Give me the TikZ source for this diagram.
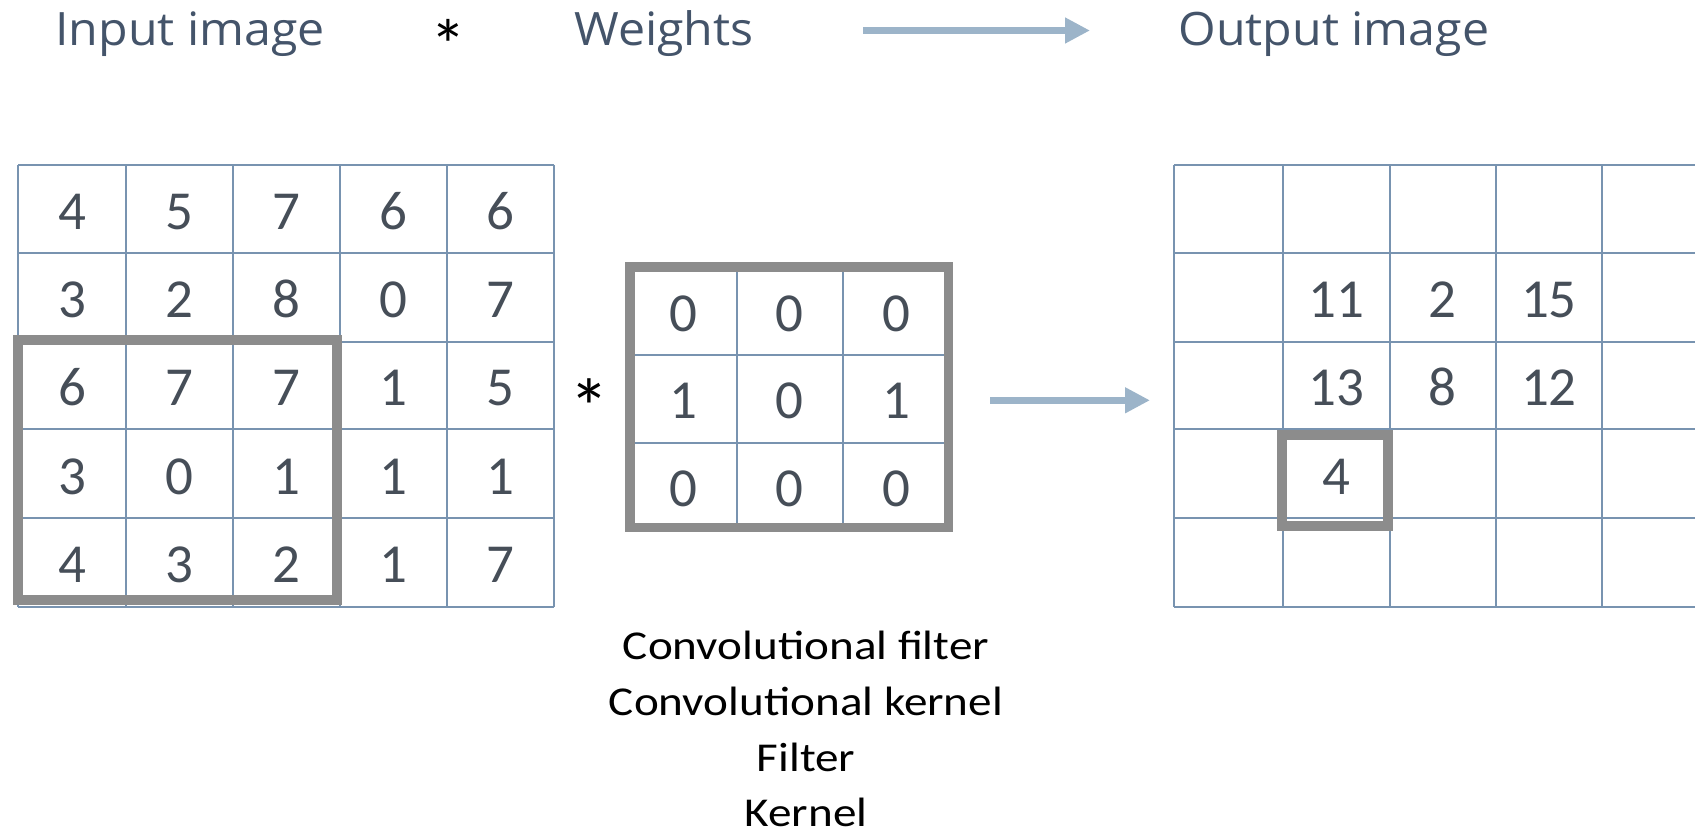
\documentclass[tikz,border=0pt]{standalone}
\usepackage{fontspec}
\setmainfont{Carlito}
\newfontfamily\titlefont{Open Sans}[FakeStretch=1.05]
\newfontfamily\labelfont{Carlito}[FakeStretch=1.15]
\usetikzlibrary{arrows.meta}

\definecolor{titleblue}{HTML}{44546A}
\definecolor{numgray}{HTML}{464E58}
\definecolor{gridblue}{HTML}{7893B0}
\definecolor{wingray}{HTML}{8C8C8C}
\definecolor{arrowblue}{HTML}{9CB4C9}

\begin{document}
\begin{tikzpicture}[x=0.5pt,y=-0.5pt,
  gridline/.style={draw=gridblue, line width=1pt},
  window/.style={draw=wingray, line width=4.75pt},
  num/.style={font=\fontsize{27.5}{33}\selectfont, text=numgray, anchor=base, inner sep=0pt},
  heading/.style={font=\titlefont\fontsize{23}{28}\selectfont, text=titleblue, anchor=base west, inner sep=0pt},
  caption/.style={font=\labelfont\fontsize{20.5}{28}\selectfont, text=black, anchor=base, inner sep=0pt},
  times/.style={text=black, anchor=base, inner sep=0pt},
  flowarrow/.style={draw=arrowblue, line width=3.65pt, -{Triangle[length=12.5pt,width=12.2pt]}}]
\useasboundingbox (0,0) rectangle (1695,834);

% headings
\node[heading] (tin) at (55,46) {Input image};
\node[times, font=\fontsize{36}{40}\selectfont] (tstar) at (448,71) {*};
\node[heading] (tw) at (574,46) {Weights};
\node[heading] (tout) at (1178,46) {Output image};
\coordinate (ta) at (863,30.5);
\coordinate (tb) at (1090,30.5);
\draw[flowarrow] (ta) -- (tb);

% input image grid
\foreach \x in {18.4,126.3,232.7,339.5,446.6,553.8}
  \draw[gridline] (\x,165) -- (\x,606.7);
\foreach \y in {165,253.3,341.7,429.3,518.3,606.7}
  \draw[gridline] (18.4,\y) -- (553.8,\y);
\foreach \row [count=\r] in {{4,5,7,6,6},{3,2,8,0,7},{6,7,7,1,5},{3,0,1,1,1},{4,3,2,1,7}}
  \foreach \v [count=\c] in \row
    \node[num] (in-\r-\c) at ({72.4+(\c-1)*107},{229+(\r-1)*88.4}) {\v};
\draw[window] (18.2,340) rectangle (337,600);

% convolution sign
\node[times, font=\fontsize{40}{44}\selectfont] (cstar) at (589,435) {*};

% kernel
\foreach \x in {736.7,842.7}
  \draw[gridline] (\x,267) -- (\x,527.7);
\foreach \y in {355,442.7}
  \draw[gridline] (629.8,\y) -- (948.5,\y);
\foreach \row [count=\r] in {{0,0,0},{1,0,1},{0,0,0}}
  \foreach \v [count=\c] in \row
    \node[num] (k-\r-\c) at ({683+(\c-1)*106.5},{331+(\r-1)*87.5}) {\v};
\draw[window] (629.8,267) rectangle (948.5,527.7);

% result arrow
\coordinate (ma) at (990,400.3);
\coordinate (mb) at (1150,400.3);
\draw[flowarrow] (ma) -- (mb);

% output image grid
\foreach \x in {1174.3,1282.8,1389.8,1495.8,1601.9}
  \draw[gridline] (\x,165) -- (\x,606.7);
\foreach \y in {165,253.3,341.7,429.3,518.3,606.7}
  \draw[gridline] (1174.3,\y) -- (1695,\y);
\node[num] (o-2-2) at (1336.3,317.5) {11};
\node[num] (o-2-3) at (1442.8,317.5) {2};
\node[num] (o-2-4) at (1548.9,317.5) {15};
\node[num] (o-3-2) at (1336.3,405.5) {13};
\node[num] (o-3-3) at (1442.8,405.5) {8};
\node[num] (o-3-4) at (1548.9,405.5) {12};
\node[num] (o-4-2) at (1336.3,494) {4};
\draw[window] (1282,435) rectangle (1388,526);

% names of the kernel
\node[caption] (c1) at (806,659) {Convolutional filter};
\node[caption] (c2) at (806,715) {Convolutional kernel};
\node[caption] (c3) at (806,771) {Filter};
\node[caption] (c4) at (806,826) {Kernel};
\end{tikzpicture}
\end{document}
